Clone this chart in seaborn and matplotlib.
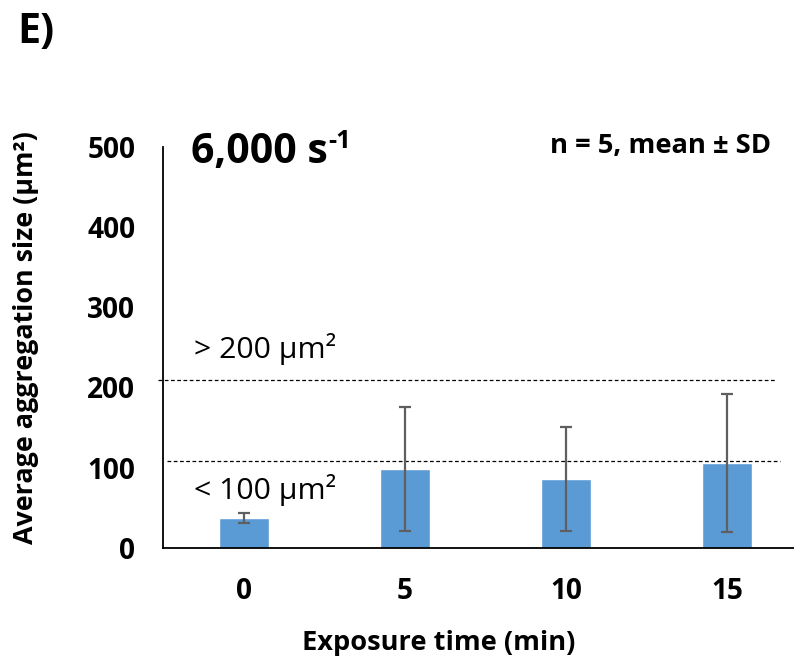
import matplotlib
matplotlib.use("Agg")
import matplotlib.pyplot as plt
import seaborn as sns
import pandas as pd
import numpy as np

categories = ["0", "5", "10", "15"]
means = [37, 98, 86, 105.5]
sds = [6, 77, 65, 86.5]
threshold_lines = [209, 108]

sns.set_theme(style="white")
plt.rcParams['font.family'] = ['Open Sans', 'DejaVu Sans']
plt.rcParams['text.color'] = 'black'
plt.rcParams['axes.labelcolor'] = 'black'
plt.rcParams['xtick.color'] = 'black'
plt.rcParams['ytick.color'] = 'black'

df = pd.DataFrame({"Exposure time (min)": categories, "size": means})

W, H = 794, 657
fig = plt.figure(figsize=(W / 100, H / 100), dpi=100)
renderer = fig.canvas.get_renderer()
left, right, bottom, top = 163, 807.5, 547.7, 147
ax = fig.add_axes([left / W, (H - bottom) / H, (right - left) / W, (bottom - top) / H])


def fx(px):
    return px / W


def fy(py):
    return 1 - py / H


def fit_width(t, target, horizontal=True):
    bb = t.get_window_extent(renderer)
    cur = bb.width if horizontal else bb.height
    t.set_fontsize(t.get_fontsize() * target / cur)


sns.barplot(data=df, x="Exposure time (min)", y="size", color="#5B9BD5",
            width=0.31, saturation=1, errorbar=None, ax=ax)
ax.errorbar(x=np.arange(len(categories)), y=means, yerr=sds, fmt="none",
            ecolor="#5f5f5f", elinewidth=1.6, capsize=4.5, capthick=1.6, zorder=5)

ax.set_xlim(-0.5, 3.5)
ax.set_ylim(0, 500)
ax.set_yticks([0, 100, 200, 300, 400, 500])
for s in ["top", "right"]:
    ax.spines[s].set_visible(False)
for s in ["left", "bottom"]:
    ax.spines[s].set_color("black")
    ax.spines[s].set_linewidth(1.3)

# tick label size from measured width of "500"
probe = fig.text(0, 0, "500", fontsize=20, fontweight="bold")
fit_width(probe, 48)
tick_fs = probe.get_fontsize()
probe.remove()

ax.tick_params(axis="both", length=0, labelsize=tick_fs, labelcolor="black")
ax.tick_params(axis="y", pad=20)
ax.tick_params(axis="x", pad=21)
for lab in ax.get_xticklabels() + ax.get_yticklabels():
    lab.set_fontweight("bold")

# dashed threshold lines
ax.hlines(threshold_lines[0], -0.534, 3.30, colors="black", linestyles=(0, (3, 2)),
          linewidth=0.9, clip_on=False)
ax.hlines(threshold_lines[1], -0.478, 3.33, colors="black", linestyles=(0, (3, 2)),
          linewidth=0.9, clip_on=False)

xl = ax.set_xlabel("Exposure time (min)", fontsize=18, fontweight="bold", color="black",
                   va="baseline")
fit_width(xl, 274)
ax.xaxis.set_label_coords((439 - left) / (right - left), -(650 - bottom) / (bottom - top))
yl = ax.set_ylabel("Average aggregation size (μm²)", fontsize=18, fontweight="bold",
                   color="black", va="center")
fit_width(yl, 414, horizontal=False)
ax.yaxis.set_label_coords((26 - left) / (right - left), (bottom - 338) / (bottom - top))

t = fig.text(fx(17), fy(43), "E)", fontsize=27, fontweight="bold", ha="left", va="baseline",
             color="black")
fit_width(t, 37)

t6 = fig.text(fx(191), fy(163), "6,000 s", fontsize=27, fontweight="bold",
              ha="left", va="baseline", color="black")
fit_width(t6, 137)
bb6 = t6.get_window_extent(renderer)
fig.text(bb6.x1 / W + 0.001, fy(148), "-1", fontsize=t6.get_fontsize() * 0.62,
         fontweight="bold", ha="left", va="baseline", color="black")

tn = fig.text(fx(771), fy(153), "n = 5, mean ± SD", fontsize=15, fontweight="bold",
              ha="right", va="baseline", color="black")
fit_width(tn, 222)

t2 = fig.text(fx(194), fy(358), "> 200 μm²", fontsize=17, ha="left", va="baseline",
              color="black")
fit_width(t2, 142)
t1 = fig.text(fx(194), fy(499), "< 100 μm²", fontsize=17, ha="left", va="baseline",
              color="black")
t1.set_fontsize(t2.get_fontsize())

fig.savefig("out.png", dpi=100)
